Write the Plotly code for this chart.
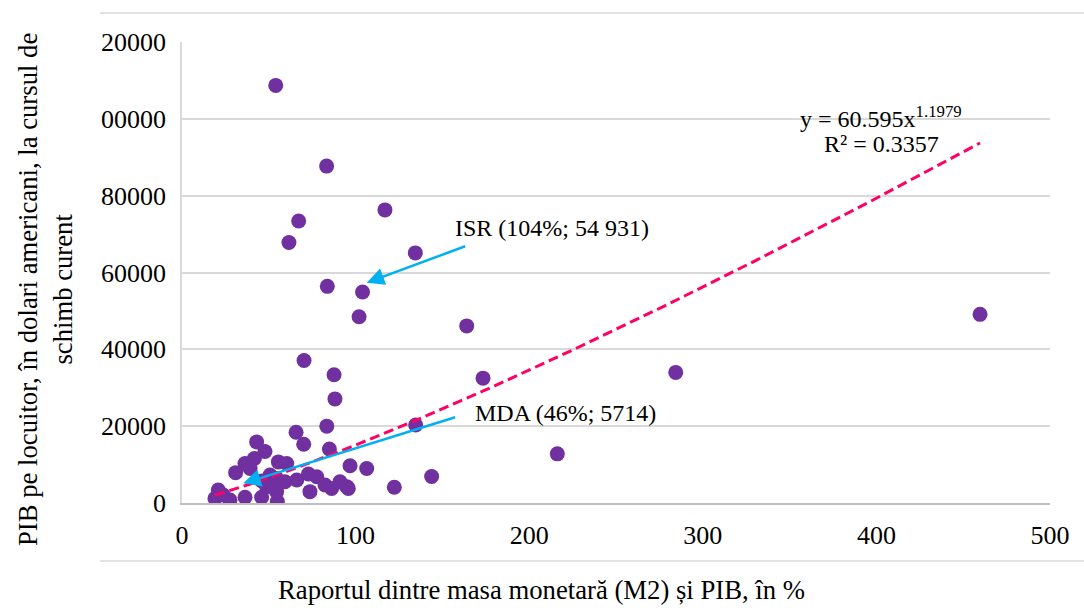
import plotly.graph_objects as go
import numpy as np

# ---- data ----
m2_gdp_pct = [54, 83.3, 116.9, 67.2, 61.6, 134.4, 83.7, 104, 102, 164, 459.7, 70.3, 87.6,
              173.4, 284.4, 88.1, 83.4, 134.6, 216.2, 143.8, 122.3,
              65.7, 70.1, 84.9, 43, 47.8, 41.7, 36.3, 30.9, 39.2, 55.5, 60.3, 96.8, 106.4,
              50.7, 46, 54.5, 59.3, 66.1, 72.8, 77.6, 73.7, 82.4, 86.2, 91, 95.8, 36.3,
              45.9, 54.9, 54.5, 20.9, 19, 27.6, 23.8, 48.8, 94.9]
gdp_per_capita = [108700, 87700, 76300, 73400, 67800, 65100, 56400, 54931, 48500, 46100, 49100,
                  37100, 33400, 32500, 34000, 27100, 20000, 20300, 12800, 6900, 4100,
                  18400, 15300, 14050, 15900, 13400, 11600, 10300, 7900, 9000, 10700, 10300,
                  9700, 9000, 7300, 5714, 6400, 5550, 6000, 7550, 6850, 2950, 4700, 3800,
                  5550, 3800, 1500, 1500, 400, 2950, 3400, 1200, 800, 2100, 4250, 4250]

y_tick_vals = [0, 20000, 40000, 60000, 80000, 100000, 120000]
y_tick_text = ["0", "20000", "40000", "60000", "80000", "00000", "20000"]
x_tick_vals = [0, 100, 200, 300, 400, 500]

trend_a = 60.595
trend_b = 1.1979
trend_r2 = 0.3357

isr_label = "ISR (104%; 54 931)"
mda_label = "MDA (46%; 5714)"

x_title = "Raportul dintre masa monetară (M2) și PIB, în %"
y_title = "PIB pe locuitor, în dolari americani, la cursul de<br>schimb curent"

FONT = "Liberation Serif, Times New Roman, serif"
PURPLE = "#7030A0"
PINK = "#FF0066"
BLUE = "#00B0F0"
GRID = "#D9D9D9"

# trendline from the displayed power equation
tx = np.linspace(min(m2_gdp_pct), max(m2_gdp_pct), 200)
ty = trend_a * tx ** trend_b

fig = go.Figure()
fig.add_trace(go.Scatter(x=m2_gdp_pct, y=gdp_per_capita, mode="markers",
                         marker=dict(color=PURPLE, size=15, line=dict(width=0)),
                         showlegend=False, hoverinfo="x+y"))
fig.add_trace(go.Scatter(x=tx, y=ty, mode="lines",
                         line=dict(color=PINK, width=3, dash="10px,5px"),
                         showlegend=False, hoverinfo="skip"))

txt_font = dict(family=FONT, size=24, color="#000")
annotations = [
    # arrows
    dict(x=106.4, y=57340, ax=164.0, ay=66970, xref="x", yref="y", axref="x", ayref="y",
         text="", showarrow=True, arrowhead=2, arrowsize=1.4, arrowwidth=2.5,
         arrowcolor=BLUE, standoff=0),
    dict(x=35.3, y=5130, ax=158.2, ay=22460, xref="x", yref="y", axref="x", ayref="y",
         text="", showarrow=True, arrowhead=2, arrowsize=1.4, arrowwidth=2.5,
         arrowcolor=BLUE, standoff=0),
    # labels
    dict(x=156.1, y=71580, xref="x", yref="y", text=isr_label, showarrow=False,
         xanchor="left", yanchor="middle", font=txt_font),
    dict(x=167.6, y=23430, xref="x", yref="y", text=mda_label, showarrow=False,
         xanchor="left", yanchor="middle", font=txt_font),
    dict(x=402.6, y=100400, xref="x", yref="y",
         text=f"y = {trend_a}x<sup>{trend_b}</sup>", showarrow=False,
         xanchor="center", yanchor="middle", font=txt_font),
    dict(x=403.0, y=93400, xref="x", yref="y",
         text=f"R² = {trend_r2}", showarrow=False,
         xanchor="center", yanchor="middle", font=txt_font),
    # axis titles
    dict(x=0, y=0.5, xref="paper", yref="paper", xshift=-137, yshift=-17.5,
         text=y_title, textangle=-90, showarrow=False, xanchor="center", yanchor="middle",
         align="center", font=dict(family=FONT, size=26.7, color="#000")),
    dict(x=0.5, y=0, xref="paper", yref="paper", xshift=-74.5, yshift=-87,
         text=x_title, showarrow=False, xanchor="center", yanchor="middle",
         font=dict(family=FONT, size=26.7, color="#000")),
]

shapes = [
    dict(type="line", xref="paper", yref="paper", x0=-0.0945, x1=1.04, y0=1.063, y1=1.063,
         line=dict(color=GRID, width=1.5)),
    dict(type="line", xref="paper", yref="paper", x0=-0.0945, x1=1.04, y0=-0.1258, y1=-0.1258,
         line=dict(color=GRID, width=1.5)),
]

fig.update_layout(
    width=1084, height=608,
    margin=dict(l=182, r=34, t=42, b=105),
    paper_bgcolor="white", plot_bgcolor="white",
    font=dict(family=FONT, size=24, color="#000"),
    annotations=annotations, shapes=shapes,
    showlegend=False,
)
fig.update_xaxes(range=[0, 500], tickvals=x_tick_vals, showgrid=False, zeroline=False,
                 showline=True, linecolor="#BFBFBF", linewidth=1.5, ticks="",
                 ticklabelstandoff=8, tickfont=dict(family=FONT, size=26, color="#000"))
fig.update_yaxes(range=[0, 120000], tickvals=y_tick_vals, ticktext=y_tick_text,
                 showgrid=True, gridcolor=GRID, gridwidth=1.5, zeroline=False,
                 showline=True, linecolor=GRID, linewidth=1.5, ticks="",
                 ticklabelstandoff=9, tickfont=dict(family=FONT, size=26, color="#000"))

fig.write_html("out.html", config={"displayModeBar": False},
               post_script="document.body.style.margin='0';document.body.style.padding='0';")
